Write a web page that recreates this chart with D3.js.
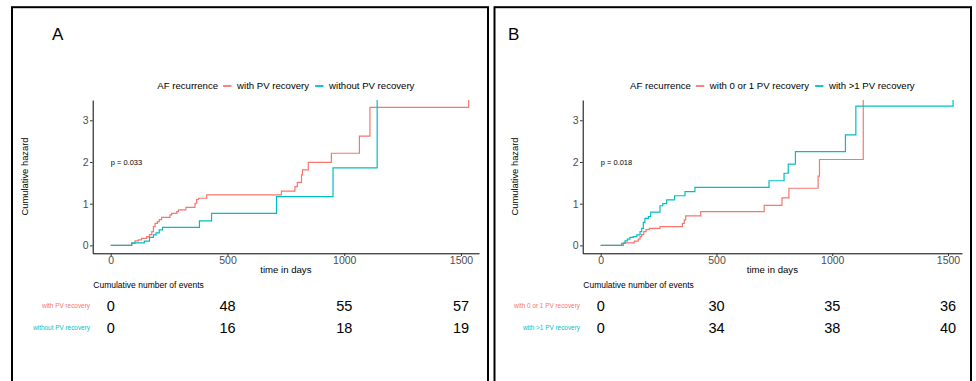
<!DOCTYPE html>
<html>
<head>
<meta charset="utf-8">
<script src="https://cdn.jsdelivr.net/npm/d3@7"></script>
<style>
body { margin: 0; background: #fff; }
text { font-family: "Liberation Sans", Arial, Helvetica, sans-serif; }
</style>
</head>
<body>
<div id="chart"></div>
<script>
// ---- data ----
var panelLabels = ["A", "B"];
var legendTitle = "AF recurrence";
var groupsA = ["with PV recovery", "without PV recovery"];
var groupsB = ["with 0 or 1 PV recovery", "with >1 PV recovery"];
var pvalues = ["p = 0.033", "p = 0.018"];
var xTicks = [0, 500, 1000, 1500];
var yTicks = [0, 1, 2, 3];

// cumulative hazard steps (day, hazard); Infinity = curve runs off the top
var timeA1 = [0, 90, 104, 118, 132, 154, 166, 176, 183, 190, 200, 208, 218, 254, 261, 283, 290, 322, 361, 368, 375, 411, 731, 789, 799, 817, 821, 846, 945, 1065, 1110, 1533];
var hazA1 = [0, 0.05, 0.11, 0.13, 0.17, 0.21, 0.26, 0.33, 0.45, 0.53, 0.57, 0.62, 0.67, 0.73, 0.77, 0.81, 0.85, 0.91, 1.01, 1.10, 1.13, 1.21, 1.30, 1.41, 1.51, 1.69, 1.81, 1.99, 2.21, 2.62, 3.31, Infinity];
var timeA2 = [0, 90, 144, 166, 183, 194, 208, 222, 380, 432, 710, 952, 1141];
var hazA2 = [0, 0.06, 0.10, 0.19, 0.25, 0.30, 0.37, 0.43, 0.59, 0.77, 1.17, 1.86, Infinity];

var timeB1 = [0, 98, 145, 162, 170, 177, 186, 196, 210, 256, 353, 361, 367, 432, 706, 783, 813, 939, 945, 1134];
var hazB1 = [0, 0.06, 0.10, 0.15, 0.21, 0.26, 0.33, 0.38, 0.41, 0.45, 0.53, 0.61, 0.71, 0.81, 0.96, 1.14, 1.37, 1.66, 2.06, Infinity];
var timeB2 = [0, 91, 105, 115, 126, 141, 156, 170, 177, 184, 191, 206, 216, 256, 268, 285, 319, 364, 407, 727, 792, 810, 841, 1057, 1102, 1522];
var hazB2 = [0, 0.05, 0.11, 0.15, 0.19, 0.21, 0.25, 0.33, 0.41, 0.55, 0.65, 0.69, 0.80, 0.95, 1.00, 1.09, 1.19, 1.29, 1.39, 1.55, 1.73, 1.95, 2.25, 2.65, 3.34, Infinity];

// cumulative number of events table
var tableTimes = [0, 500, 1000, 1500];
var eventsA1 = [0, 48, 55, 57];
var eventsA2 = [0, 16, 18, 19];
var eventsB1 = [0, 30, 35, 36];
var eventsB2 = [0, 34, 38, 40];

var colors = ["#F8766D", "#00BFC4"];

var svg = d3.select("#chart")
    .append("svg")
    .attr("width", 976)
    .attr("height", 381);

function toSteps(times, haz) {
    return times.map(function (t, i) { return { t: t, h: haz[i] }; });
}

function drawPanel(p) {
    var g = svg.append("g");

    // frame round the panel
    g.append("rect")
        .attr("x", p.left).attr("y", 7.2)
        .attr("width", p.right - p.left).attr("height", 420)
        .attr("fill", "none").attr("stroke", "black").attr("stroke-width", 2);

    g.append("text")
        .attr("x", p.titleX).attr("y", 39.5)
        .style("font-size", "17px")
        .text(p.title);

    // x: placed so 0 and 1500 sit where the picture has them
    var xRef = d3.scaleLinear().domain([0, 1500]).range([p.x0, p.x1500]);
    var x = d3.scaleLinear()
        .domain([xRef.invert(p.axisL), xRef.invert(p.axisR)])
        .range([p.axisL, p.axisR]);
    var y = d3.scaleLinear()
        .domain([-0.19, 3.487])
        .range([253.3, 100])
        .clamp(true);

    var yAxis = g.append("g")
        .attr("transform", "translate(" + p.axisL + ",0)")
        .call(d3.axisLeft(y).tickValues(yTicks).tickFormat(d3.format("d"))
            .tickSize(2.7).tickSizeOuter(0).tickPadding(1.5));
    var xAxis = g.append("g")
        .attr("transform", "translate(0,253.3)")
        .call(d3.axisBottom(x).tickValues(xTicks).tickFormat(d3.format("d"))
            .tickSize(2.7).tickSizeOuter(0).tickPadding(0.5));

    [yAxis, xAxis].forEach(function (a) {
        a.attr("font-family", null).attr("font-size", null);
        a.select(".domain").attr("stroke", "black").attr("stroke-width", 1);
        a.selectAll(".tick line").attr("stroke", "#333").attr("stroke-width", 1);
        a.selectAll(".tick text").attr("fill", "#4D4D4D").style("font-size", "10.5px");
    });

    // axis titles
    g.append("text")
        .attr("x", (p.axisL + p.axisR) / 2).attr("y", 273)
        .attr("text-anchor", "middle")
        .style("font-size", "9.6px")
        .text("time in days");
    g.append("text")
        .attr("transform", "translate(" + p.yTitleX + ",176.5) rotate(-90)")
        .attr("text-anchor", "middle")
        .attr("dy", "0.35em")
        .style("font-size", "9.4px")
        .text("Cumulative hazard");

    // curves
    var line = d3.line()
        .x(function (d) { return x(d.t); })
        .y(function (d) { return y(d.h); })
        .curve(d3.curveStepAfter);

    p.series.forEach(function (s, i) {
        g.append("path")
            .datum(toSteps(s.times, s.haz))
            .attr("fill", "none")
            .attr("stroke", colors[i])
            .attr("stroke-width", 1.2)
            .attr("d", line);
    });

    // p value
    g.append("text")
        .attr("x", x(0)).attr("y", y(2))
        .attr("dy", "0.35em")
        .style("font-size", "7.5px")
        .text(p.pval);

    // legend, centred over the plot
    var lg = g.append("g").attr("transform", "translate(0,86)");
    var t0 = lg.append("text").attr("dy", "0.35em").style("font-size", "9.6px").text(legendTitle);
    var pos = t0.node().getComputedTextLength() + 5;
    p.series.forEach(function (s, i) {
        lg.append("line")
            .attr("x1", pos).attr("x2", pos + 8.4)
            .attr("stroke", colors[i]).attr("stroke-width", 1.8);
        pos += 8.4 + 5.6;
        var t = lg.append("text")
            .attr("x", pos).attr("dy", "0.35em")
            .style("font-size", "9.6px")
            .text(s.name);
        pos += t.node().getComputedTextLength() + 6;
    });
    pos -= 6;
    lg.attr("transform", "translate(" + ((p.axisL + p.axisR) / 2 - pos / 2) + ",86)");

    // risk table
    g.append("text")
        .attr("x", p.axisL + 0.6).attr("y", 288)
        .style("font-size", "8.5px")
        .text("Cumulative number of events");

    var rowY = [306, 328];
    p.series.forEach(function (s, i) {
        g.append("text")
            .attr("x", p.axisL - 2.7).attr("y", rowY[i])
            .attr("dy", "0.35em")
            .attr("text-anchor", "end")
            .attr("fill", colors[i])
            .style("font-size", "6.4px")
            .text(s.name);
        g.selectAll(".cnt" + i)
            .data(s.events)
            .enter()
            .append("text")
            .attr("x", function (d, j) { return x(tableTimes[j]); })
            .attr("y", rowY[i])
            .attr("dy", "0.35em")
            .attr("text-anchor", "middle")
            .style("font-size", "14.5px")
            .text(function (d) { return d; });
    });
}

drawPanel({
    title: panelLabels[0], titleX: 52,
    left: 12, right: 488,
    axisL: 92.7, axisR: 479, x0: 110.7, x1500: 461,
    yTitleX: 25,
    pval: pvalues[0],
    series: [
        { name: groupsA[0], times: timeA1, haz: hazA1, events: eventsA1 },
        { name: groupsA[1], times: timeA2, haz: hazA2, events: eventsA2 }
    ]
});

drawPanel({
    title: panelLabels[1], titleX: 508,
    left: 494.5, right: 971,
    axisL: 582.7, axisR: 962, x0: 600.7, x1500: 948,
    yTitleX: 515,
    pval: pvalues[1],
    series: [
        { name: groupsB[0], times: timeB1, haz: hazB1, events: eventsB1 },
        { name: groupsB[1], times: timeB2, haz: hazB2, events: eventsB2 }
    ]
});
</script>
</body>
</html>
